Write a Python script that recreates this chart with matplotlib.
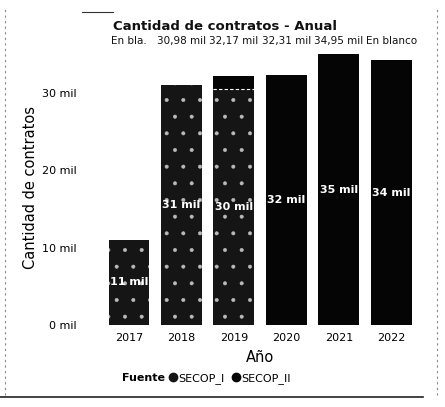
import matplotlib.pyplot as plt
from matplotlib.lines import Line2D
import numpy as np

# Data (miles de contratos)
years = ['2017', '2018', '2019', '2020', '2021', '2022']
secop_i = [11.0, 30.98, 30.4, 0, 0, 0]
secop_ii = [0, 0, 1.77, 32.31, 34.95, 34.2]
total_labels = ['En bla.', '30,98 mil', '32,17 mil', '32,31 mil', '34,95 mil', 'En blanco']
y_ticks = [0, 10, 20, 30]
y_tick_labels = ['0 mil', '10 mil', '20 mil', '30 mil']

plt.rcParams['font.family'] = ['DejaVu Sans']
plt.rcParams['hatch.color'] = '#bbbbbb'
plt.rcParams['hatch.linewidth'] = 0.4

fig = plt.figure(figsize=(4.45, 4.07), dpi=100)
ax = fig.add_axes([0.225, 0.2015, 0.719, 0.6757])

x = np.arange(len(years))
w = 0.78
b1 = ax.bar(x, secop_i, width=w, color='#151515', hatch='.', linewidth=0)
b2 = ax.bar(x, secop_ii, width=w, bottom=secop_i, color='#050505', linewidth=0)

# thin light line where the two series meet
for i in range(len(years)):
    if secop_i[i] > 0 and secop_ii[i] > 0:
        ax.plot([x[i] - w / 2, x[i] + w / 2], [secop_i[i], secop_i[i]], color='white',
                lw=0.8, ls=(0, (3, 2)))

# labels inside bars
for i in range(len(years)):
    if secop_i[i] > 5:
        ax.text(x[i], secop_i[i] / 2, f"{round(secop_i[i])} mil", ha='center', va='center',
                color='white', fontsize=8, fontweight='bold')
    if secop_ii[i] > 5:
        ax.text(x[i], secop_i[i] + secop_ii[i] / 2, f"{round(secop_ii[i])} mil", ha='center',
                va='center', color='white', fontsize=8, fontweight='bold')

# total labels (crowded row at the top)
for i, lab in enumerate(total_labels):
    ax.text(x[i], 36.0, lab, ha='center', va='bottom', fontsize=7.5, color='#111111')

ax.set_xlim(-0.55, 5.55)
ax.set_ylim(0, 35.5)
ax.set_xticks(x)
ax.set_xticklabels(years, fontsize=8)
ax.set_yticks(y_ticks)
ax.set_yticklabels(y_tick_labels, fontsize=8)
ax.tick_params(axis='both', length=0)
ax.tick_params(axis='y', pad=17)
ax.tick_params(axis='x', pad=6)
for s in ax.spines.values():
    s.set_visible(False)

ax.set_xlabel('Año', fontsize=10.5, labelpad=5)
ax.set_ylabel('Cantidad de contratos', fontsize=10.5, labelpad=3)

fig.text(0.505, 0.935, 'Cantidad de contratos - Anual', ha='center', va='center',
         fontsize=9.5, fontweight='bold', color='#111111')

# legend
fig.text(0.275, 0.071, 'Fuente', ha='left', va='center', fontsize=8, fontweight='bold')
handles = [Line2D([], [], marker='o', color='#151515', linestyle='none', markersize=6),
           Line2D([], [], marker='o', color='#050505', linestyle='none', markersize=6)]
fig.legend(handles, ['SECOP_I', 'SECOP_II'], loc='center left', bbox_to_anchor=(0.378, 0.071),
           ncol=2, frameon=False, fontsize=8, handletextpad=0.1, columnspacing=0.6,
           borderaxespad=0, borderpad=0, handlelength=0.8)

# scan borders
fig.add_artist(Line2D([0.0, 0.95], [0.025, 0.025], color='#222222', lw=1.2))
fig.add_artist(Line2D([0.011, 0.011], [0.03, 0.98], color='#888888', lw=0.8, ls=(0, (2, 3))))
fig.add_artist(Line2D([0.983, 0.983], [0.03, 0.98], color='#888888', lw=0.8, ls=(0, (2, 3))))
fig.add_artist(Line2D([0.185, 0.255], [0.97, 0.97], color='#333333', lw=0.8))

fig.savefig('out.png', dpi=100)
